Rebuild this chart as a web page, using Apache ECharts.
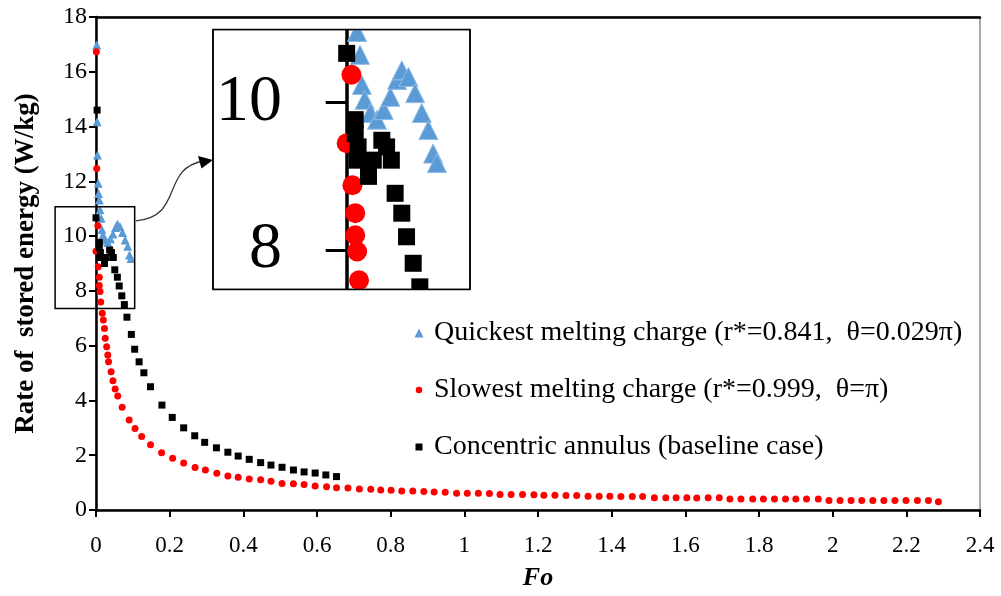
<!DOCTYPE html>
<html>
<head>
<meta charset="utf-8">
<script src="https://cdn.jsdelivr.net/npm/echarts@6/dist/echarts.min.js"></script>
<style>
  html, body { margin: 0; padding: 0; background: #fff; }
  #chart { width: 1001px; height: 596px; }
</style>
</head>
<body>
<div id="chart"></div>
<script>
// Axis ticks
const xTicks = [0, 0.2, 0.4, 0.6, 0.8, 1, 1.2, 1.4, 1.6, 1.8, 2, 2.2, 2.4];
const yTicks = [0, 2, 4, 6, 8, 10, 12, 14, 16, 18];
const insetYTicks = [8, 10];

const seriesNames = [
  'Quickest melting charge (r*=0.841,  \u03b8=0.029\u03c0)',
  'Slowest melting charge (r*=0.999,  \u03b8=\u03c0)',
  'Concentric annulus (baseline case)'
];

// [Fo, rate of stored energy (W/kg)]
const quickest = [
  [0.002, 16.98], [0.003, 14.18], [0.004, 12.96], [0.006, 11.93], [0.007, 11.56],
  [0.009, 11.32], [0.011, 10.96], [0.014, 10.65], [0.016, 10.24], [0.019, 10.04],
  [0.025, 9.86], [0.032, 9.77], [0.039, 9.90], [0.046, 10.08], [0.053, 10.31],
  [0.058, 10.44], [0.065, 10.35], [0.072, 10.13], [0.079, 9.86], [0.086, 9.63],
  [0.091, 9.31], [0.095, 9.18]
];

const slowest = [
  [0.001, 16.73], [0.002, 12.47], [0.005, 10.38], [0.000, 9.45], [0.006, 8.88],
  [0.009, 8.50], [0.009, 8.20], [0.011, 7.98], [0.013, 7.59], [0.017, 7.18],
  [0.020, 6.94], [0.023, 6.63], [0.025, 6.27], [0.029, 5.96], [0.032, 5.66],
  [0.034, 5.41], [0.041, 5.05], [0.046, 4.72], [0.052, 4.42], [0.059, 4.16],
  [0.071, 3.75], [0.090, 3.29], [0.106, 2.98], [0.124, 2.68], [0.148, 2.38],
  [0.178, 2.09], [0.208, 1.89], [0.238, 1.72], [0.269, 1.55], [0.297, 1.46],
  [0.328, 1.34], [0.358, 1.24], [0.386, 1.20], [0.416, 1.13], [0.447, 1.10],
  [0.475, 1.05], [0.505, 0.97], [0.536, 0.96], [0.565, 0.93], [0.595, 0.88],
  [0.626, 0.85], [0.653, 0.81], [0.684, 0.80], [0.715, 0.77], [0.746, 0.76],
  [0.773, 0.73], [0.801, 0.72], [0.830, 0.69], [0.860, 0.69], [0.890, 0.68],
  [0.918, 0.66], [0.948, 0.65], [0.979, 0.61], [1.008, 0.61], [1.038, 0.61],
  [1.068, 0.60], [1.097, 0.57], [1.127, 0.57], [1.158, 0.57], [1.189, 0.56],
  [1.216, 0.54], [1.246, 0.54], [1.276, 0.53], [1.305, 0.53], [1.336, 0.50],
  [1.366, 0.50], [1.395, 0.50], [1.425, 0.49], [1.456, 0.49], [1.484, 0.49],
  [1.516, 0.45], [1.547, 0.45], [1.575, 0.45], [1.604, 0.45], [1.631, 0.44],
  [1.662, 0.45], [1.692, 0.45], [1.721, 0.40], [1.751, 0.40], [1.783, 0.40],
  [1.812, 0.40], [1.842, 0.40], [1.872, 0.40], [1.900, 0.40], [1.929, 0.40],
  [1.961, 0.40], [1.990, 0.35], [2.020, 0.35], [2.050, 0.35], [2.079, 0.35],
  [2.109, 0.35], [2.139, 0.35], [2.169, 0.35], [2.199, 0.35], [2.230, 0.35],
  [2.260, 0.35], [2.287, 0.30]
];

const concentric = [
  [0.003, 14.60], [0.000, 10.67], [0.009, 9.77], [0.009, 9.58], [0.012, 9.40],
  [0.011, 9.22], [0.023, 9.00], [0.028, 9.22], [0.037, 9.49], [0.042, 9.40],
  [0.047, 9.22], [0.051, 8.77], [0.058, 8.50], [0.063, 8.18], [0.070, 7.82],
  [0.077, 7.50], [0.084, 7.04], [0.096, 6.41], [0.105, 5.87], [0.117, 5.41],
  [0.130, 5.01], [0.148, 4.50], [0.179, 3.83], [0.207, 3.38], [0.238, 3.00],
  [0.268, 2.71], [0.295, 2.47], [0.327, 2.27], [0.358, 2.11], [0.386, 1.97],
  [0.416, 1.85], [0.447, 1.73], [0.475, 1.64], [0.505, 1.56], [0.536, 1.46],
  [0.565, 1.39], [0.595, 1.35], [0.624, 1.28], [0.653, 1.22]
];

// Window around the early peak that the magnified panel shows
const zoomWindowFo = [-0.111, 0.105];
const zoomWindowRate = [7.36, 11.07];
const insetFoRange = [-0.1407, 0.1298];
const insetRateRange = [7.464, 10.994];

const FONT = '"Liberation Serif", "Times New Roman", serif';
const BLUE = '#5b9bd5';
const RED = '#ff0000';
const BLACK = '#000000';

const insetBox = { left: 213, top: 29.5, width: 257, height: 260 };

const chart = echarts.init(document.getElementById('chart'), null, { renderer: 'canvas' });

function legendFor(i, centerY, size) {
  return {
    data: [seriesNames[i]],
    orient: 'horizontal',
    left: 419 - size / 2,
    top: centerY - 16,
    itemWidth: size,
    itemHeight: size,
    selectedMode: false,
    padding: 0,
    textStyle: {
      fontFamily: FONT, fontSize: 28, color: '#000', lineHeight: 32,
      padding: [0, 0, 0, 434 - (419 + size / 2) - 5]
    }
  };
}

const option = {
  animation: false,
  backgroundColor: '#fff',
  grid: [
    { left: 96, right: 21, top: 17, bottom: 86, show: true, borderColor: '#555', borderWidth: 1,
      outerBoundsMode: 'none', containLabel: false },
    { left: insetBox.left, top: insetBox.top, width: insetBox.width, height: insetBox.height,
      show: true, backgroundColor: '#fff', borderColor: '#000', borderWidth: 1.5,
      outerBoundsMode: 'none', containLabel: false }
  ],
  legend: [
    legendFor(0, 333, 9),
    legendFor(1, 390, 6.5),
    legendFor(2, 447, 7)
  ],
  xAxis: [
    {
      gridIndex: 0, type: 'value', min: 0, max: 2.4, interval: 0.2, position: 'bottom',
      axisLine: { show: true, onZero: false, lineStyle: { color: '#000', width: 2.5 } },
      axisTick: { show: true, length: 7, customValues: xTicks, lineStyle: { color: '#000', width: 2 } },
      axisLabel: { customValues: xTicks, margin: 24, fontFamily: FONT, fontSize: 23, color: '#000' },
      splitLine: { show: false },
      name: 'Fo', nameLocation: 'middle', nameGap: 55,
      nameTextStyle: { fontFamily: FONT, fontSize: 26, fontWeight: 'bold', fontStyle: 'italic', color: '#000' }
    },
    {
      gridIndex: 0, type: 'value', min: 0, max: 2.4, position: 'top',
      axisLine: { show: true, onZero: false, lineStyle: { color: '#000', width: 2.5 } },
      axisTick: { show: false }, axisLabel: { show: false }, splitLine: { show: false }
    },
    {
      gridIndex: 1, type: 'value', min: insetFoRange[0], max: insetFoRange[1],
      axisLine: { show: false }, axisTick: { show: false }, axisLabel: { show: false }, splitLine: { show: false }
    }
  ],
  yAxis: [
    {
      gridIndex: 0, type: 'value', min: 0, max: 18, interval: 2,
      axisLine: { show: true, onZero: false, lineStyle: { color: '#000', width: 2.5 } },
      axisTick: { show: true, length: 7, customValues: yTicks, lineStyle: { color: '#000', width: 2 } },
      axisLabel: { customValues: yTicks, margin: 9, fontFamily: FONT, fontSize: 24, color: '#000' },
      splitLine: { show: false },
      name: 'Rate of  stored energy (W/kg)', nameLocation: 'middle', nameGap: 56,
      nameTextStyle: { fontFamily: FONT, fontSize: 27, fontWeight: 'bold', color: '#000' }
    },
    {
      gridIndex: 1, type: 'value', min: insetRateRange[0], max: insetRateRange[1],
      axisLine: { show: true, onZero: true, lineStyle: { color: '#000', width: 3.5 } },
      axisTick: { show: true, length: 21, customValues: insetYTicks, lineStyle: { color: '#000', width: 3 } },
      axisLabel: { customValues: insetYTicks, margin: -69, fontFamily: FONT, fontSize: 66, color: '#000' },
      splitLine: { show: false }
    }
  ],
  series: [
    { name: seriesNames[0], type: 'scatter', xAxisIndex: 0, yAxisIndex: 0, data: quickest,
      symbol: 'triangle', symbolSize: 9, itemStyle: { color: BLUE, opacity: 1 }, z: 3 },
    { name: seriesNames[1], type: 'scatter', xAxisIndex: 0, yAxisIndex: 0, data: slowest,
      symbol: 'circle', symbolSize: 7, itemStyle: { color: RED, opacity: 1 }, z: 4 },
    { name: seriesNames[2], type: 'scatter', xAxisIndex: 0, yAxisIndex: 0, data: concentric,
      symbol: 'rect', symbolSize: 7, itemStyle: { color: BLACK, opacity: 1 }, z: 5 },
    // magnified panel
    { name: seriesNames[0], type: 'scatter', xAxisIndex: 2, yAxisIndex: 1, data: quickest, clip: true,
      symbol: 'triangle', symbolSize: 19,
      itemStyle: { color: BLUE, opacity: 1, borderColor: '#8fbbe6', borderWidth: 1 }, z: 3, silent: true },
    { name: seriesNames[1], type: 'scatter', xAxisIndex: 2, yAxisIndex: 1, data: slowest, clip: true,
      symbol: 'circle', symbolSize: 20, itemStyle: { color: RED, opacity: 1 }, z: 4, silent: true },
    { name: seriesNames[2], type: 'scatter', xAxisIndex: 2, yAxisIndex: 1, data: concentric, clip: true,
      symbol: 'rect', symbolSize: 17, itemStyle: { color: BLACK, opacity: 1 }, z: 5, silent: true }
  ]
};

chart.setOption(option);

// Outline of the zoomed window on the main plot, plus the connector arrow
const pTL = chart.convertToPixel({ xAxisIndex: 0, yAxisIndex: 0 }, [zoomWindowFo[0], zoomWindowRate[1]]);
const pBR = chart.convertToPixel({ xAxisIndex: 0, yAxisIndex: 0 }, [zoomWindowFo[1], zoomWindowRate[0]]);
const b = insetBox;
const arrowStartY = pTL[1] + 14;

chart.setOption({
  graphic: [
    { type: 'rect', z: 20, silent: true,
      shape: { x: pTL[0], y: pTL[1], width: pBR[0] - pTL[0], height: pBR[1] - pTL[1] },
      style: { fill: 'none', stroke: '#000', lineWidth: 1.5 } },
    // trim symbols that overhang the magnified frame
    { type: 'rect', z: 30, silent: true,
      shape: { x: b.left - 2, y: 19.5, width: b.width + 4, height: b.top - 19.5 },
      style: { fill: '#fff' } },
    { type: 'rect', z: 30, silent: true,
      shape: { x: b.left - 2, y: b.top + b.height, width: b.width + 4, height: 14 },
      style: { fill: '#fff' } },
    { type: 'rect', z: 31, silent: true,
      shape: { x: b.left, y: b.top, width: b.width, height: b.height },
      style: { fill: 'none', stroke: '#000', lineWidth: 1.5 } },
    { type: 'bezierCurve', z: 32, silent: true,
      shape: { x1: pBR[0] + 1, y1: arrowStartY, cpx1: pBR[0] + 50, cpy1: arrowStartY - 4,
               cpx2: 160, cpy2: 168, x2: 204, y2: 161 },
      style: { stroke: '#333', lineWidth: 1.3, fill: 'none' } },
    { type: 'polygon', z: 33, silent: true,
      shape: { points: [[198, 156], [b.left, 160], [201.5, 168.5]] },
      style: { fill: '#000' } }
  ]
});
</script>
</body>
</html>
